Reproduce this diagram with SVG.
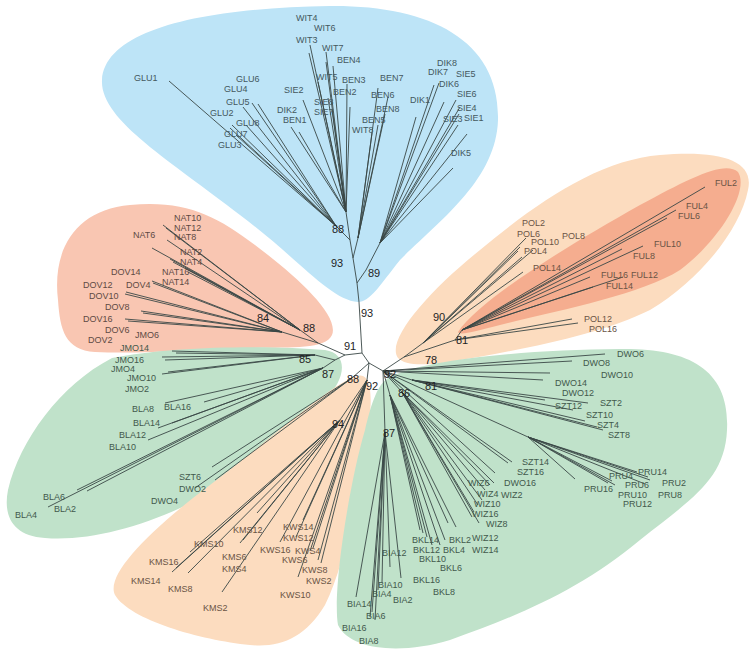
<svg xmlns="http://www.w3.org/2000/svg" width="756" height="655" viewBox="0 0 756 655">
<style>
text{font-family:"Liberation Sans",Arial,sans-serif}
.l{font-size:9px}
.cb{fill:#44585e}.cr{fill:#5e4a44}.co{fill:#6a5445}.cg{fill:#42594c}
.b{font-size:11px;fill:#1e1e1e}
#edges path{stroke:#3a4746;stroke-width:0.9;fill:none}
</style>
<rect width="756" height="655" fill="#ffffff"/>
<g id="clades">
<path d="M358,302 C330,300 300,260 240,215 C170,160 100,120 102,80 C105,30 200,8 330,6 C430,5 500,40 498,120 C496,180 440,220 400,260 C380,285 370,302 358,302 Z" fill="#bde4f7"/>
<path d="M58,300 C52,250 75,210 130,205 C185,200 215,215 255,245 C295,275 340,315 332,335 C325,350 290,347 250,348 C190,350 140,354 95,352 C65,350 60,330 58,300 Z" fill="#f9c6b2"/>
<path d="M112,358 C170,346 270,345 325,350 C350,354 345,380 325,400 C295,430 260,462 215,490 C160,522 95,542 45,538 C12,536 3,515 8,490 C20,440 60,385 112,358 Z" fill="#c0e2ca"/>
<path d="M358,376 C372,372 374,400 366,440 C356,500 345,565 325,605 C305,638 280,648 250,645 C200,640 130,620 115,595 C105,575 150,530 210,485 C270,440 335,380 358,376 Z" fill="#fcdcbf"/>
<path d="M398,358 C385,340 430,290 480,250 C540,200 600,160 660,155 C720,150 755,160 748,190 C740,230 700,280 650,310 C600,335 520,350 450,362 C420,366 405,365 398,358 Z" fill="#fcdcbf"/>
<path d="M458,332 C480,300 560,250 640,205 C690,178 725,160 738,172 C750,190 720,240 680,270 C640,295 560,310 500,325 C475,331 460,336 458,332 Z" fill="#f5ad8f"/>
<path d="M388,378 C420,360 520,350 620,349 C690,348 730,370 727,430 C725,480 690,500 640,540 C580,590 520,615 450,640 C400,655 350,650 338,625 C332,590 350,480 365,430 C372,400 378,385 388,378 Z" fill="#c0e2ca"/>
</g>
<g id="edges">
<path d="M362,353 L359,302 L357,283 M357,283 L353,258 L350,240 M357,283 L366,270 M353,258 L358,238 M350,240 L336,226 M350,240 L346,212 M366,270 L380,243"/>
<path d="M336,226 L169,81 M336,226 L258,104 M336,226 L243,107 M336,226 L252,103 M336,226 L232,125 M336,226 L246,125 M336,226 L230,128 M336,226 L236,135"/>
<path d="M346,212 L309,53 M346,212 L310,45 M346,212 L326,62 M346,212 L326,52 M346,212 L318,82 M346,212 L333,66 M346,212 L328,98 M346,212 L332,110 M346,212 L303,100 M346,212 L291,127 M346,212 L299,132 M346,212 L347,84 M346,212 L350,107"/>
<path d="M358,238 L378,88 M358,238 L388,97 M358,238 L385,114 M358,238 L378,125 M358,238 L372,133"/>
<path d="M380,243 L416,117 M380,243 L434,85 M380,243 L439,83 M380,243 L444,102 M380,243 L456,100 M380,243 L460,107 M380,243 L459,114 M380,243 L458,125 M380,243 L467,134 M380,243 L453,168"/>
<path d="M362,353 L345,355 L318,343 M318,343 L300,330 M318,343 L282,332"/>
<path d="M300,330 L163,225 M300,330 L166,228 M300,330 L167,240 M300,330 L152,248 M300,330 L170,259 M300,330 L173,262 M300,330 L185,268 M300,330 L188,272"/>
<path d="M282,332 L152,281 M282,332 L153,283 M282,332 L126,292 M282,332 L125,294 M282,332 L141,311 M282,332 L143,313 M282,332 L125,319 M282,332 L128,321"/>
<path d="M345,355 L335,360 M335,360 L315,355 M335,360 L323,368"/>
<path d="M315,355 L172,351 M315,355 L176,353 M315,355 L162,357 M315,355 L165,360 M315,355 L162,374 M315,355 L168,372"/>
<path d="M323,368 L165,403 M323,368 L204,402 M323,368 L172,423 M323,368 L158,428 M323,368 L148,440 M323,368 L77,490 M323,368 L87,491 M323,368 L48,507"/>
<path d="M362,353 L369,363 M369,363 L352,378 M369,363 L367,380 M369,363 L383,371"/>
<path d="M352,378 L212,467 M352,378 L195,488 M352,378 L215,480"/>
<path d="M367,380 L340,420 M340,420 L172,572 M340,420 L176,568 M340,420 L188,573 M340,420 L222,592 M340,420 L190,552 M340,420 L240,543 M340,420 L243,540 M340,420 L257,513"/>
<path d="M367,380 L303,520 M367,380 L296,537 M367,380 L280,542 M367,380 L313,548 M367,380 L310,551 M367,380 L318,560 M367,380 L321,563 M367,380 L298,577"/>
<path d="M383,371 L404,357 M404,357 L423,343 M404,357 L455,340 M455,340 L462,330"/>
<path d="M423,343 L526,238 M423,343 L520,247 M423,343 L518,251 M423,343 L533,250 M423,343 L522,257 M423,343 L523,272"/>
<path d="M455,340 L572,319 M455,340 L578,323"/>
<path d="M462,330 L705,187 M462,330 L676,210 M462,330 L667,218 M462,330 L643,246 M462,330 L622,249 M462,330 L590,277 M462,330 L623,277 M462,330 L593,287"/>
<path d="M383,371 L605,354 M383,371 L572,361 M383,371 L550,373 M383,371 L543,380"/>
<path d="M383,371 L412,380 M412,380 L588,403 M412,380 L573,410 M412,380 L585,421 M412,380 L597,427 M412,380 L545,400 M412,380 L603,430"/>
<path d="M383,371 L528,437 M528,437 L648,477 M528,437 L637,472 M528,437 L650,480 M528,437 L608,483 M528,437 L575,479 M528,437 L645,484 M528,437 L612,481 M528,437 L615,485"/>
<path d="M383,371 L512,462 M383,371 L508,463 M383,371 L495,473"/>
<path d="M383,371 L402,392 M402,392 L490,485 M402,392 L485,490 M402,392 L494,483 M402,392 L482,500 M402,392 L478,505 M402,392 L479,523 M402,392 L474,512 M402,392 L472,517"/>
<path d="M383,371 L390,395 M390,395 L423,533 M390,395 L427,537 M390,395 L432,545 M390,395 L420,530 M390,395 L456,527 M390,395 L448,523 M390,395 L445,540 M390,395 L440,545"/>
<path d="M383,371 L385,432 M385,432 L356,597 M385,432 L370,617 M385,432 L372,612 M385,432 L375,620 M385,432 L382,583 M385,432 L378,590 M385,432 L390,567 M385,432 L401,578"/>
</g>
<g id="support">
<text class="b" x="331" y="267">93</text>
<text class="b" x="332" y="233">88</text>
<text class="b" x="368" y="277">89</text>
<text class="b" x="361" y="317">93</text>
<text class="b" x="257" y="322">84</text>
<text class="b" x="303" y="332">88</text>
<text class="b" x="344" y="350">91</text>
<text class="b" x="299" y="363">85</text>
<text class="b" x="322" y="378">87</text>
<text class="b" x="347" y="383">88</text>
<text class="b" x="366" y="390">92</text>
<text class="b" x="384" y="378">92</text>
<text class="b" x="398" y="397">86</text>
<text class="b" x="425" y="390">81</text>
<text class="b" x="383" y="437">87</text>
<text class="b" x="332" y="428">94</text>
<text class="b" x="433" y="321">90</text>
<text class="b" x="456" y="344">81</text>
<text class="b" x="425" y="364">78</text>
</g>
<g id="leaves-blue" class="l cb">
<g id="GLU1"><text x="134" y="81">GLU1</text></g>
<g id="GLU6"><text x="236" y="82">GLU6</text></g>
<g id="GLU4"><text x="224" y="92">GLU4</text></g>
<g id="GLU5"><text x="226" y="105">GLU5</text></g>
<g id="GLU2"><text x="210" y="116">GLU2</text></g>
<g id="GLU8"><text x="236" y="126">GLU8</text></g>
<g id="GLU7"><text x="224" y="137">GLU7</text></g>
<g id="GLU3"><text x="218" y="148">GLU3</text></g>
<g id="SIE2"><text x="284" y="93">SIE2</text></g>
<g id="DIK2"><text x="277" y="113">DIK2</text></g>
<g id="BEN1"><text x="283" y="123">BEN1</text></g>
<g id="SIE8"><text x="314" y="105">SIE8</text></g>
<g id="SIE7"><text x="314" y="115">SIE7</text></g>
<g id="WIT4"><text x="296" y="21">WIT4</text></g>
<g id="WIT6"><text x="314" y="31">WIT6</text></g>
<g id="WIT3"><text x="296" y="43">WIT3</text></g>
<g id="WIT7"><text x="322" y="51">WIT7</text></g>
<g id="WIT5"><text x="316" y="80">WIT5</text></g>
<g id="BEN4"><text x="337" y="63">BEN4</text></g>
<g id="BEN3"><text x="342" y="83">BEN3</text></g>
<g id="BEN2"><text x="333" y="95">BEN2</text></g>
<g id="BEN7"><text x="380" y="81">BEN7</text></g>
<g id="BEN6"><text x="371" y="98">BEN6</text></g>
<g id="BEN8"><text x="376" y="112">BEN8</text></g>
<g id="BEN5"><text x="362" y="123">BEN5</text></g>
<g id="WIT8"><text x="352" y="133">WIT8</text></g>
<g id="DIK8"><text x="437" y="66">DIK8</text></g>
<g id="DIK7"><text x="428" y="75">DIK7</text></g>
<g id="SIE5"><text x="456" y="77">SIE5</text></g>
<g id="DIK6"><text x="439" y="87">DIK6</text></g>
<g id="SIE6"><text x="457" y="97">SIE6</text></g>
<g id="DIK1"><text x="410" y="103">DIK1</text></g>
<g id="SIE4"><text x="457" y="111">SIE4</text></g>
<g id="SIE3"><text x="443" y="122">SIE3</text></g>
<g id="SIE1"><text x="464" y="121">SIE1</text></g>
<g id="DIK5"><text x="451" y="156">DIK5</text></g>
</g>
<g id="leaves-red" class="l cr">
<g id="NAT10"><text x="174" y="221">NAT10</text></g>
<g id="NAT12"><text x="174" y="230.5">NAT12</text></g>
<g id="NAT8"><text x="174" y="240">NAT8</text></g>
<g id="NAT6"><text x="133" y="238">NAT6</text></g>
<g id="NAT2"><text x="180" y="255">NAT2</text></g>
<g id="NAT4"><text x="180" y="265">NAT4</text></g>
<g id="NAT16"><text x="162" y="275">NAT16</text></g>
<g id="NAT14"><text x="162" y="285">NAT14</text></g>
<g id="DOV14"><text x="111" y="275">DOV14</text></g>
<g id="DOV12"><text x="83" y="288">DOV12</text></g>
<g id="DOV4"><text x="126" y="288">DOV4</text></g>
<g id="DOV10"><text x="89" y="299">DOV10</text></g>
<g id="DOV8"><text x="105" y="310">DOV8</text></g>
<g id="DOV16"><text x="83" y="322">DOV16</text></g>
<g id="DOV6"><text x="105" y="333">DOV6</text></g>
<g id="DOV2"><text x="88" y="343">DOV2</text></g>
<g id="JMO6"><text x="135" y="338">JMO6</text></g>
</g>
<g id="leaves-green-left" class="l cg">
<g id="JMO14"><text x="120" y="351">JMO14</text></g>
<g id="JMO16"><text x="115" y="363">JMO16</text></g>
<g id="JMO4"><text x="111" y="372">JMO4</text></g>
<g id="JMO10"><text x="127" y="381">JMO10</text></g>
<g id="JMO2"><text x="125" y="392">JMO2</text></g>
<g id="BLA8"><text x="132" y="412">BLA8</text></g>
<g id="BLA16"><text x="164" y="410">BLA16</text></g>
<g id="BLA14"><text x="133" y="426">BLA14</text></g>
<g id="BLA12"><text x="119" y="438">BLA12</text></g>
<g id="BLA10"><text x="109" y="450">BLA10</text></g>
<g id="BLA6"><text x="43" y="500">BLA6</text></g>
<g id="BLA2"><text x="54" y="512">BLA2</text></g>
<g id="BLA4"><text x="15" y="518">BLA4</text></g>
<g id="SZT6"><text x="179" y="480">SZT6</text></g>
<g id="DWO2"><text x="179" y="492">DWO2</text></g>
<g id="DWO4"><text x="151" y="504">DWO4</text></g>
</g>
<g id="leaves-orange-bottom" class="l co">
<g id="KMS16"><text x="149" y="565">KMS16</text></g>
<g id="KMS14"><text x="131" y="584">KMS14</text></g>
<g id="KMS8"><text x="168" y="592">KMS8</text></g>
<g id="KMS2"><text x="203" y="611">KMS2</text></g>
<g id="KMS10"><text x="194" y="547">KMS10</text></g>
<g id="KMS6"><text x="222" y="560">KMS6</text></g>
<g id="KMS4"><text x="222" y="572">KMS4</text></g>
<g id="KMS12"><text x="233" y="533">KMS12</text></g>
<g id="KWS14"><text x="283" y="530">KWS14</text></g>
<g id="KWS12"><text x="283" y="541">KWS12</text></g>
<g id="KWS16"><text x="260" y="553">KWS16</text></g>
<g id="KWS4"><text x="295" y="554">KWS4</text></g>
<g id="KWS6"><text x="282" y="563">KWS6</text></g>
<g id="KWS8"><text x="302" y="573">KWS8</text></g>
<g id="KWS2"><text x="306" y="584">KWS2</text></g>
<g id="KWS10"><text x="280" y="598">KWS10</text></g>
</g>
<g id="leaves-orange-right" class="l co">
<g id="POL2"><text x="522" y="226">POL2</text></g>
<g id="POL6"><text x="517" y="237">POL6</text></g>
<g id="POL10"><text x="531" y="245">POL10</text></g>
<g id="POL8"><text x="562" y="239">POL8</text></g>
<g id="POL4"><text x="524" y="254">POL4</text></g>
<g id="POL14"><text x="533" y="271">POL14</text></g>
<g id="FUL2"><text x="715" y="186">FUL2</text></g>
<g id="FUL4"><text x="686" y="209">FUL4</text></g>
<g id="FUL6"><text x="678" y="218.5">FUL6</text></g>
<g id="FUL10"><text x="654" y="247">FUL10</text></g>
<g id="FUL8"><text x="633" y="259">FUL8</text></g>
<g id="FUL16"><text x="601" y="278">FUL16</text></g>
<g id="FUL12"><text x="631" y="278">FUL12</text></g>
<g id="FUL14"><text x="606" y="289">FUL14</text></g>
<g id="POL12"><text x="584" y="322">POL12</text></g>
<g id="POL16"><text x="589" y="331.5">POL16</text></g>
</g>
<g id="leaves-green-right" class="l cg">
<g id="DWO6"><text x="617" y="357">DWO6</text></g>
<g id="DWO8"><text x="583" y="366">DWO8</text></g>
<g id="DWO10"><text x="601" y="378">DWO10</text></g>
<g id="DWO14"><text x="555" y="386">DWO14</text></g>
<g id="DWO12"><text x="562" y="396">DWO12</text></g>
<g id="SZT2"><text x="600" y="406">SZT2</text></g>
<g id="SZT12"><text x="555" y="409">SZT12</text></g>
<g id="SZT10"><text x="586" y="418">SZT10</text></g>
<g id="SZT4"><text x="597" y="428">SZT4</text></g>
<g id="SZT8"><text x="608" y="438">SZT8</text></g>
<g id="SZT14"><text x="522" y="465">SZT14</text></g>
<g id="SZT16"><text x="517" y="475">SZT16</text></g>
<g id="DWO16"><text x="504" y="486">DWO16</text></g>
<g id="PRU14"><text x="638" y="475">PRU14</text></g>
<g id="PRU4"><text x="609" y="479">PRU4</text></g>
<g id="PRU2"><text x="662" y="486">PRU2</text></g>
<g id="PRU6"><text x="625" y="488">PRU6</text></g>
<g id="PRU16"><text x="584" y="492">PRU16</text></g>
<g id="PRU8"><text x="658" y="498">PRU8</text></g>
<g id="PRU10"><text x="618" y="498">PRU10</text></g>
<g id="PRU12"><text x="623" y="507">PRU12</text></g>
<g id="WIZ6"><text x="468" y="486">WIZ6</text></g>
<g id="WIZ4"><text x="477" y="497">WIZ4</text></g>
<g id="WIZ2"><text x="501" y="498">WIZ2</text></g>
<g id="WIZ10"><text x="474" y="507">WIZ10</text></g>
<g id="WIZ16"><text x="472" y="517">WIZ16</text></g>
<g id="WIZ8"><text x="486" y="527">WIZ8</text></g>
<g id="WIZ12"><text x="472" y="541">WIZ12</text></g>
<g id="WIZ14"><text x="472" y="553">WIZ14</text></g>
<g id="BKL14"><text x="412" y="543">BKL14</text></g>
<g id="BKL2"><text x="449" y="543">BKL2</text></g>
<g id="BKL12"><text x="413" y="553">BKL12</text></g>
<g id="BKL4"><text x="443" y="553">BKL4</text></g>
<g id="BKL10"><text x="419" y="562">BKL10</text></g>
<g id="BKL6"><text x="440" y="571">BKL6</text></g>
<g id="BKL16"><text x="413" y="583">BKL16</text></g>
<g id="BKL8"><text x="433" y="595">BKL8</text></g>
<g id="BIA12"><text x="382" y="556">BIA12</text></g>
<g id="BIA10"><text x="378" y="588">BIA10</text></g>
<g id="BIA4"><text x="372" y="597">BIA4</text></g>
<g id="BIA2"><text x="393" y="603">BIA2</text></g>
<g id="BIA14"><text x="347" y="607">BIA14</text></g>
<g id="BIA6"><text x="366" y="619">BIA6</text></g>
<g id="BIA16"><text x="342" y="631">BIA16</text></g>
<g id="BIA8"><text x="359" y="644">BIA8</text></g>
</g>
</svg>
